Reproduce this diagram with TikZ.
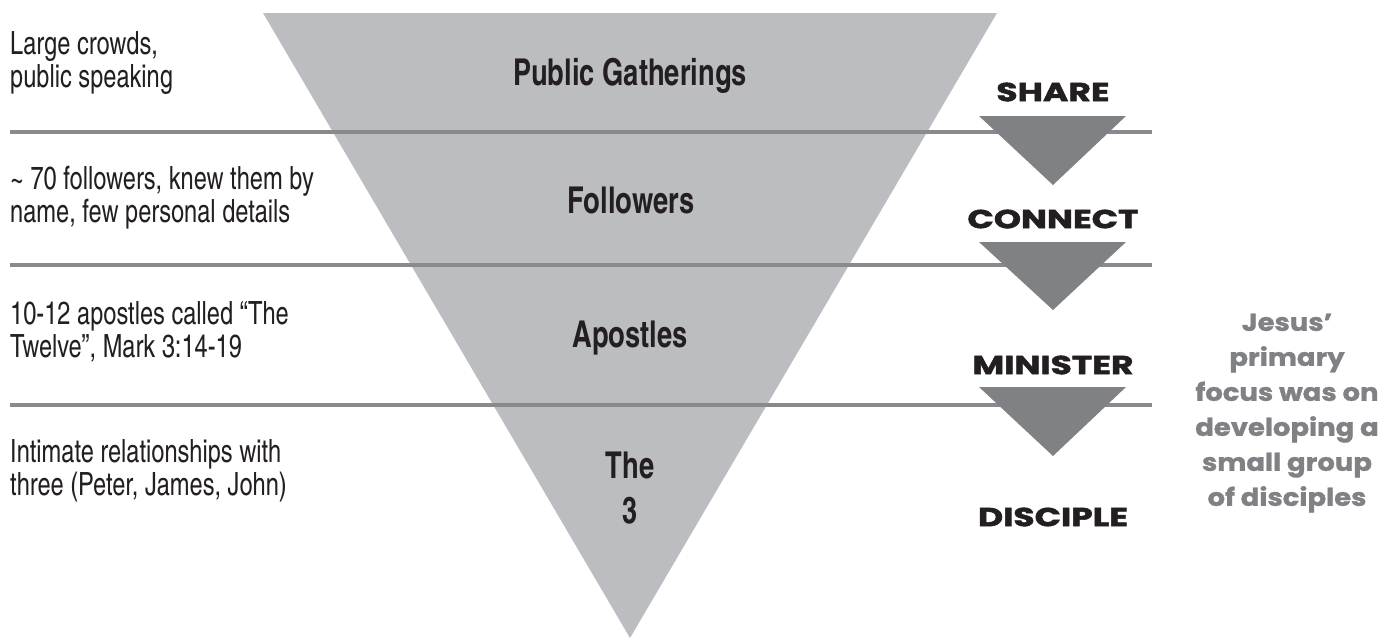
\documentclass[tikz,border=0pt]{standalone}
\usepackage{fontspec}
\setmainfont{texgyreheroscn-regular.otf}[BoldFont=texgyreheroscn-bold.otf,
  UprightFeatures={FakeStretch=0.9},BoldFeatures={FakeStretch=0.9}]
\newfontfamily\geofont{Poppins}[BoldFeatures={FakeBold=1.2,FakeStretch=1.12}]
\newfontfamily\geowide{Poppins}[BoldFeatures={FakeBold=2,FakeStretch=1.33}]
\usetikzlibrary{positioning}

\definecolor{funnelgray}{HTML}{BCBDC0}
\definecolor{rulegray}{HTML}{898A8D}
\definecolor{stepgray}{HTML}{808184}
\definecolor{inkblack}{HTML}{231F20}

\begin{document}
\begin{tikzpicture}[x=1pt,y=-1pt,
  desc/.style={anchor=west,align=left,inner sep=0pt,text=inkblack,
    font=\fontsize{32}{33}\selectfont},
  tier/.style={anchor=base,inner sep=0pt,text=inkblack,
    font=\bfseries\fontsize{37}{40}\selectfont},
  stage/.style={inner sep=0pt,text=inkblack,
    font=\geowide\bfseries\fontsize{26}{30}\selectfont},
  note/.style={align=center,inner sep=0pt,text=stepgray,
    font=\geofont\bfseries\fontsize{24.5}{35}\selectfont}]

  \useasboundingbox (0,0) rectangle (1395,640);

  %% the big funnel
  \fill[funnelgray] (263,13) -- (997,13) -- (630,638) -- cycle;

  %% separating rules
  \draw[rulegray,line width=4pt] (10,132) -- (1152,132);
  \draw[rulegray,line width=4pt] (10,265) -- (1152,265);
  \draw[rulegray,line width=4pt] (10,405) -- (1152,405);

  %% small step arrows
  \fill[stepgray] (979,116) -- (1126,116) -- (1053,185) -- cycle;
  \fill[stepgray] (979,242) -- (1126,242) -- (1053,310) -- cycle;
  \fill[stepgray] (979,387) -- (1126,387) -- (1053,456) -- cycle;

  %% left descriptions
  \node[desc] (crowds) at (10,63) {Large crowds,\\public speaking};
  \node[desc] (seventy) at (10,198) {\textasciitilde\ 70 followers, knew them by\\name, few personal details};
  \node[desc] (twelve) at (10,332) {10-12 apostles called “The\\Twelve”, Mark 3:14-19};
  \node[desc] (intimate) at (10,471) {Intimate relationships with\\three (Peter, James, John)};

  %% tiers in the funnel
  \node[tier] (public) at (630,85) {Public Gatherings};
  \node[tier] (followers) at (631,213) {Followers};
  \node[tier] (apostles) at (630,347) {Apostles};
  \node[tier] (thethe) at (630,478) {The};
  \node[tier] (three) at (630,523) {3};

  %% stages on the right
  \node[stage] (share) at (1053,92) {SHARE};
  \node[stage] (connect) at (1053,219) {CONNECT};
  \node[stage] (minister) at (1053,365) {MINISTER};
  \node[stage] (disciple) at (1053,517) {DISCIPLE};

  %% side note
  \node[note] (focus) at (1287,413) {Jesus’\\primary\\focus was on\\developing a\\small group\\of disciples};

\end{tikzpicture}
\end{document}
